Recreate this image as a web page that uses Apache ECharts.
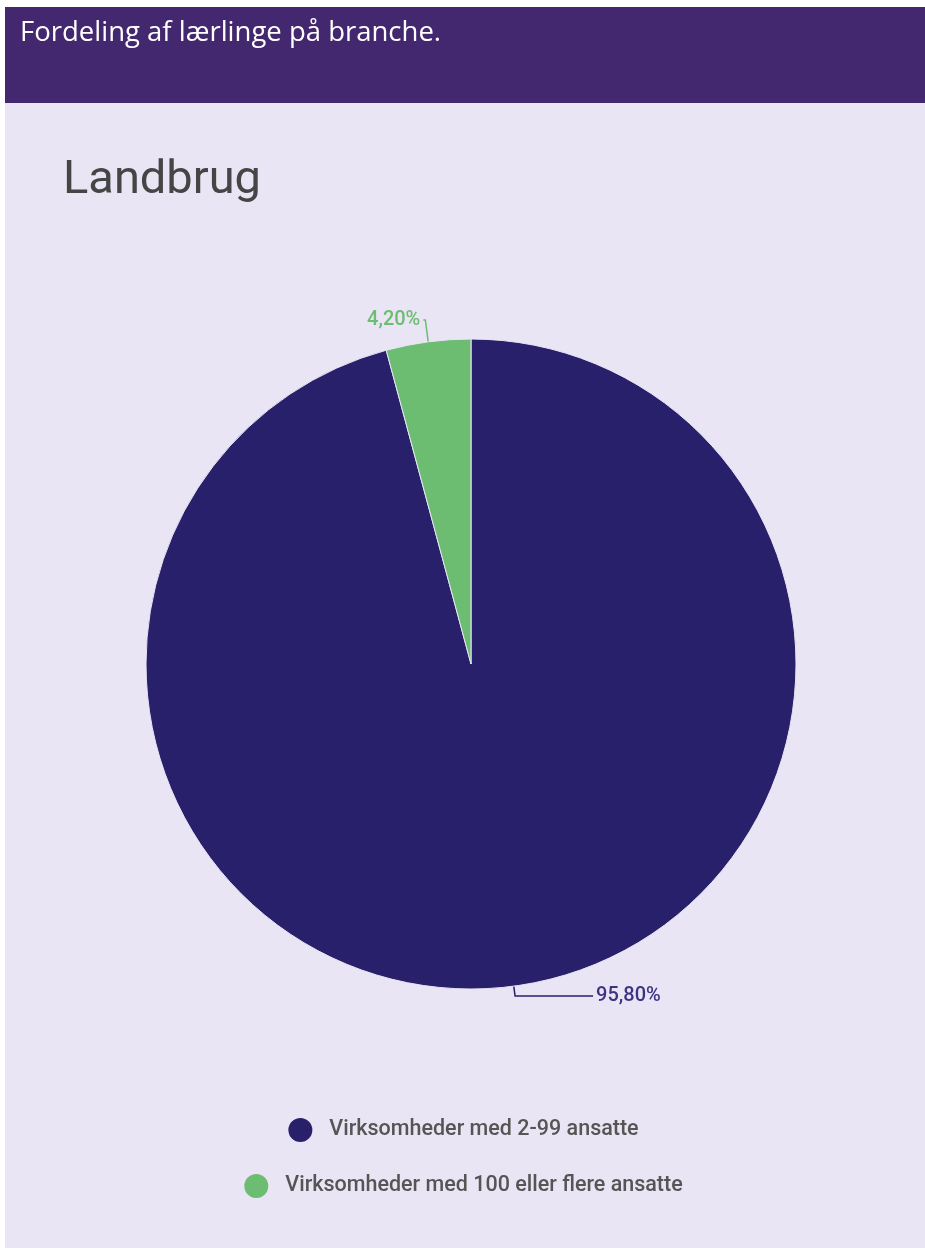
<!DOCTYPE html>
<html>
<head>
<meta charset="utf-8">
<script src="https://cdn.jsdelivr.net/npm/echarts@6/dist/echarts.min.js"></script>
<style>
  html, body { margin: 0; padding: 0; background: #ffffff; }
  #chart { width: 925px; height: 1248px; }
</style>
</head>
<body>
<div id="chart"></div>
<script>
// Apprentice distribution by company size, agriculture sector
const categories = ['Virksomheder med 2-99 ansatte', 'Virksomheder med 100 eller flere ansatte'];
const shares = [95.8, 4.2];
const sliceColors = ['#29206B', '#6CBD72'];
const labelColors = ['#3C3483', '#6CBD72'];

const fmt = v => v.toFixed(2).replace('.', ',') + '%';

const chart = echarts.init(document.getElementById('chart'), null, { renderer: 'canvas' });

const pieData = categories.map((name, i) => ({
  name: name,
  value: shares[i],
  itemStyle: { color: sliceColors[i] },
  label: { color: labelColors[i] },
  labelLine: i === 0
    ? { length: 10, length2: 78, lineStyle: { color: sliceColors[i] } }
    : { length: 22, length2: 2, lineStyle: { color: sliceColors[i] } }
}));

const legendText = { color: '#555555', fontFamily: 'Roboto', fontSize: 21.5, fontWeight: 500, padding: [0, 0, 0, 11] };

chart.setOption({
  backgroundColor: '#ffffff',
  animation: false,
  graphic: [
    { type: 'rect', shape: { x: 5, y: 103, width: 920, height: 1145 }, style: { fill: '#E9E5F4' }, z: -10 },
    { type: 'rect', shape: { x: 5, y: 7, width: 920, height: 96 }, style: { fill: '#43286F' }, z: -10 }
  ],
  title: [
    {
      text: 'Fordeling af lærlinge på branche.',
      left: 15, top: 14,
      textStyle: { color: '#ffffff', fontFamily: 'Open Sans', fontSize: 27.5, fontWeight: 'normal' }
    },
    {
      text: 'Landbrug',
      left: 58, top: 153,
      textStyle: { color: '#454545', fontFamily: 'Roboto', fontSize: 47, fontWeight: 'normal' }
    }
  ],
  legend: [
    {
      data: [categories[0]],
      left: 'center', top: 1111,
      icon: 'circle', itemWidth: 26, itemHeight: 26,
      textStyle: legendText
    },
    {
      data: [categories[1]],
      left: 'center', top: 1167,
      icon: 'circle', itemWidth: 26, itemHeight: 26,
      textStyle: legendText
    }
  ],
  series: [{
    type: 'pie',
    center: [471, 664],
    radius: 325,
    startAngle: 90,
    clockwise: true,
    data: pieData,
    itemStyle: { borderColor: '#E9E5F4', borderWidth: 1 },
    label: {
      show: true,
      position: 'outside',
      formatter: p => fmt(p.value),
      fontFamily: 'Roboto',
      fontSize: 20,
      fontWeight: 500,
      distanceToLabelLine: 3
    },
    labelLine: { show: true, lineStyle: { width: 1.5 } },
    emphasis: { disabled: true }
  }]
});
</script>
</body>
</html>
